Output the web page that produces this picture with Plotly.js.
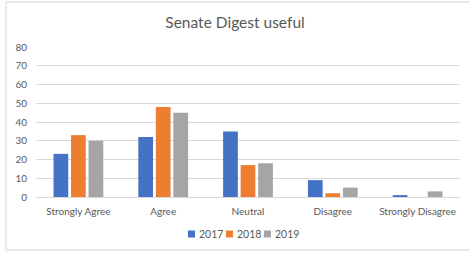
<!DOCTYPE html>
<html>
<head>
<meta charset="utf-8">
<script src="https://cdn.plot.ly/plotly-3.0.1.min.js"></script>
<style>html,body{margin:0;padding:0;background:#fff;}#chart{width:470px;height:254px;}</style>
</head>
<body>
<div id="chart"></div>
<script>
const categories = ["Strongly Agree", "Agree", "Neutral", "Disagree", "Strongly Disagree"];
const seriesNames = ["2017", "2018", "2019"];
const values2017 = [23, 32, 35, 9, 1];
const values2018 = [33, 48, 17, 2, 0];
const values2019 = [30, 45, 18, 5, 3];
const colors = ["#4472C4", "#ED7D31", "#A5A5A5"];
const yTicks = [0, 10, 20, 30, 40, 50, 60, 70, 80];

const allValues = [values2017, values2018, values2019];
const traces = allValues.map((v, i) => ({
  type: "bar",
  name: seriesNames[i],
  x: categories,
  y: v,
  marker: {color: colors[i]},
  hoverinfo: "x+y+name"
}));

const W = 470, H = 254, ML = 36, MR = 10, MT = 47, MB = 57;
const PW = W - ML - MR, PH = H - MT - MB;
const px = x => (x - ML) / PW;
const py = y => (H - MB - y) / PH;

// compact legend built with shapes (swatches) + annotations (labels)
const legendStartX = 188, legendStep = 38, legendY = 234, sw = 7;
const legendShapes = seriesNames.map((n, i) => ({
  type: "rect", xref: "paper", yref: "paper",
  x0: px(legendStartX + i * legendStep), x1: px(legendStartX + i * legendStep + sw),
  y0: py(legendY + sw / 2), y1: py(legendY - sw / 2),
  fillcolor: colors[i], line: {width: 0}
}));
const legendAnn = seriesNames.map((n, i) => ({
  xref: "paper", yref: "paper", x: px(legendStartX + i * legendStep + sw + 2), y: py(legendY),
  xanchor: "left", yanchor: "middle", text: n, showarrow: false,
  font: {size: 10.5, color: "#595959"}
}));

const fontFamily = "Lato, 'Open Sans', sans-serif";
const layout = {
  width: W, height: H,
  margin: {l: ML, r: MR, t: MT, b: MB, autoexpand: false},
  paper_bgcolor: "#fff", plot_bgcolor: "#fff",
  font: {family: fontFamily, size: 10, color: "#595959"},
  title: {text: "Senate Digest useful", font: {family: fontFamily, size: 15.5, color: "#595959"}, x: 0.5, xanchor: "center", y: 0.91, yanchor: "middle"},
  barmode: "group",
  bargap: 0.38,
  bargroupgap: 0.16,
  showlegend: false,
  xaxis: {showgrid: false, showline: true, linecolor: "#d9d9d9", linewidth: 1, ticks: "", tickfont: {size: 10, color: "#595959"}, ticklabelstandoff: 5},
  yaxis: {range: [0, 80], tickvals: yTicks, showgrid: true, gridcolor: "#d9d9d9", gridwidth: 1, zeroline: false, showline: false, ticks: "", tickfont: {size: 10, color: "#595959"}, ticklabelstandoff: 8},
  annotations: legendAnn,
  shapes: [{type: "rect", xref: "paper", yref: "paper", x0: px(6), x1: px(473), y0: py(250), y1: py(2), line: {color: "#e3e3e3", width: 1.5}, fillcolor: "rgba(0,0,0,0)", layer: "below"}].concat(legendShapes)
};

Plotly.newPlot("chart", traces, layout, {displayModeBar: false, staticPlot: true});
</script>
</body>
</html>
